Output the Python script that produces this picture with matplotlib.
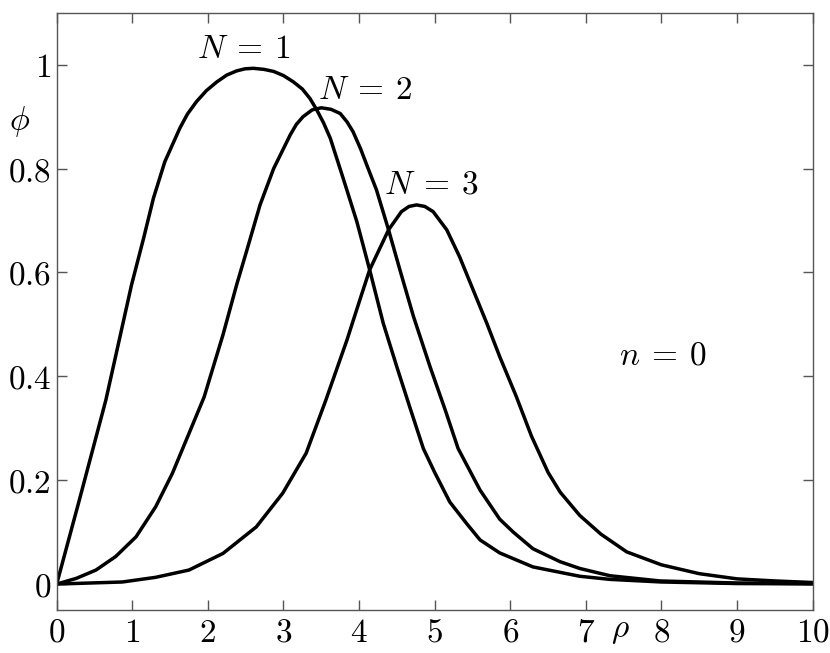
import matplotlib
matplotlib.use("Agg")
import matplotlib.pyplot as plt
from matplotlib.ticker import FuncFormatter

plt.rcParams['mathtext.fontset'] = 'cm'
plt.rcParams['font.family'] = 'serif'

# profile values, one pair of arrays per curve
rho_n1 = [0, 0.30, 0.65, 0.99, 1.15, 1.28, 1.43, 1.63, 1.73, 1.85, 1.98, 2.12,
          2.25, 2.38, 2.49, 2.60, 2.74, 2.87, 3.0, 3.13, 3.25, 3.35, 3.44, 3.53,
          3.62, 3.79, 3.97, 4.14, 4.32, 4.50, 4.67, 4.85, 5.0, 5.2, 5.42, 5.6,
          5.86, 6.3, 6.92, 7.32, 8.0, 9.0, 10]
phi_n1 = [0, 0.162, 0.354, 0.576, 0.666, 0.743, 0.813, 0.878, 0.905, 0.929, 0.950, 0.967,
          0.980, 0.988, 0.992, 0.993, 0.991, 0.987, 0.979, 0.967, 0.953, 0.935, 0.913, 0.888,
          0.858, 0.781, 0.698, 0.605, 0.502, 0.418, 0.341, 0.261, 0.215, 0.158, 0.117, 0.085,
          0.060, 0.033, 0.015, 0.009, 0.004, 0.001, 0.0003]

rho_n2 = [0, 0.26, 0.52, 0.78, 1.05, 1.31, 1.53, 1.75, 1.95, 2.2, 2.38, 2.51,
          2.69, 2.87, 3.09, 3.17, 3.26, 3.38, 3.50, 3.63, 3.75, 3.84, 3.92, 4.02,
          4.12, 4.23, 4.39, 4.54, 4.72, 4.94, 5.14, 5.31, 5.6, 5.86, 6.04, 6.30,
          6.66, 6.92, 7.32, 7.98, 9.0, 10]
phi_n2 = [0, 0.011, 0.027, 0.053, 0.091, 0.149, 0.213, 0.290, 0.36, 0.48, 0.576, 0.640,
          0.730, 0.800, 0.865, 0.885, 0.900, 0.913, 0.917, 0.914, 0.906, 0.890, 0.871, 0.838,
          0.800, 0.759, 0.682, 0.605, 0.515, 0.418, 0.335, 0.261, 0.181, 0.125, 0.100, 0.068,
          0.043, 0.030, 0.016, 0.006, 0.002, 0.001]

rho_n3 = [0, 0.87, 1.31, 1.75, 2.20, 2.64, 2.99, 3.30, 3.56, 3.84, 4.01, 4.14,
          4.39, 4.56, 4.66, 4.76, 4.87, 4.98, 5.16, 5.33, 5.51, 5.69, 5.86, 6.08,
          6.28, 6.5, 6.66, 6.92, 7.2, 7.54, 8.0, 8.5, 9.0, 9.5, 10]
phi_n3 = [0, 0.004, 0.013, 0.027, 0.059, 0.110, 0.175, 0.252, 0.354, 0.470, 0.547, 0.605,
          0.682, 0.717, 0.727, 0.730, 0.727, 0.717, 0.682, 0.630, 0.566, 0.502, 0.438, 0.361,
          0.285, 0.215, 0.177, 0.132, 0.096, 0.062, 0.037, 0.020, 0.010, 0.006, 0.003]

x_ticks = list(range(0, 11))
y_ticks = [0, 0.2, 0.4, 0.6, 0.8, 1.0]

fig = plt.figure(figsize=(8.3, 6.53), dpi=100)
ax = fig.add_axes([0.0683, 0.0658, 0.9108, 0.9147])

for rho, phi in [(rho_n1, phi_n1), (rho_n2, phi_n2), (rho_n3, phi_n3)]:
    ax.plot(rho, phi, color='black', lw=2.5, solid_joinstyle='round')

ax.set_xlim(0, 10)
ax.set_ylim(-0.05, 1.1)
ax.set_xticks(x_ticks)
ax.set_yticks(y_ticks)
ax.xaxis.set_major_formatter(FuncFormatter(lambda v, p: r'$%g$' % v))
ax.yaxis.set_major_formatter(FuncFormatter(lambda v, p: r'$%g$' % v))
ax.tick_params(direction='in', top=True, right=True, length=7, width=1,
               color='#555555', labelsize=24)
ax.tick_params(axis='x', pad=5)
ax.tick_params(axis='y', pad=4)
for sp in ax.spines.values():
    sp.set_color('#555555')
    sp.set_linewidth(1.0)

fs = 24
ax.text(2.47, 1.013, r'$N\:=\:1$', fontsize=fs, ha='center', va='baseline')
ax.text(4.08, 0.933, r'$N\:=\:2$', fontsize=fs, ha='center', va='baseline')
ax.text(4.96, 0.752, r'$N\:=\:3$', fontsize=fs, ha='center', va='baseline')
ax.text(8.02, 0.422, r'$n\:=\:0$', fontsize=fs, ha='center', va='baseline')
ax.text(-0.49, 0.89, r'$\phi$', fontsize=fs, ha='center', va='center', clip_on=False)
ax.text(7.45, -0.089, r'$\rho$', fontsize=fs, ha='center', va='center', clip_on=False)

fig.savefig('out.png', dpi=100)
